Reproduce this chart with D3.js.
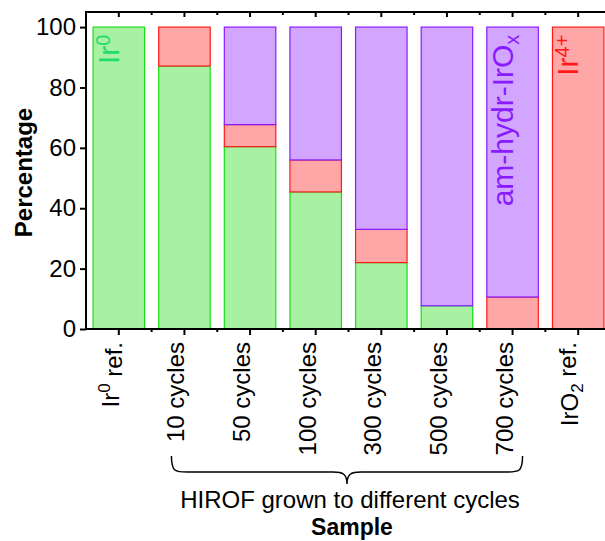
<!DOCTYPE html>
<html>
<head>
<meta charset="utf-8">
<script src="https://cdn.jsdelivr.net/npm/d3@7"></script>
<style>
  html, body { margin: 0; padding: 0; background: #fff; overflow: hidden; }
  svg { display: block; font-family: "Liberation Sans", Arial, sans-serif; }
</style>
</head>
<body>
<svg id="chart" width="605" height="541"></svg>
<script>
// Samples along the x axis
const samples = ["Ir0 ref.", "10 cycles", "50 cycles", "100 cycles", "300 cycles", "500 cycles", "700 cycles", "IrO2 ref."];
// Percentage of each iridium species per sample
const ir0Pct   = [100, 87.1, 60.4, 45.4, 22.0, 7.7, 0, 0];
const ir4Pct   = [0, 12.9, 7.3, 10.6, 11.0, 0, 10.6, 100];
const amorphPct = [0, 0, 32.3, 44.0, 67.0, 92.3, 89.4, 0];
const yTicks = [0, 20, 40, 60, 80, 100];

const species = [
  { key: "ir0", values: ir0Pct, fill: "#a8f0a2", stroke: "#19e019" },
  { key: "ir4", values: ir4Pct, fill: "#ffa6a6", stroke: "#ff1a1a" },
  { key: "amorph", values: amorphPct, fill: "#d2a6ff", stroke: "#8a1aff" }
];

const rows = samples.map((s, i) => {
  const r = { sample: s };
  species.forEach(sp => r[sp.key] = sp.values[i]);
  return r;
});

const svg = d3.select("#chart");
const plotL = 86, plotR = 611, plotT = 12, plotB = 329;

const x = d3.scaleBand().domain(samples).range([plotL, plotR])
  .paddingInner(0.2).paddingOuter(0.1);
const y = d3.scaleLinear().domain([0, 105]).range([plotB, plotT]);

// stacked bars
const stack = d3.stack().keys(species.map(s => s.key));
const series = stack(rows);
series.forEach((layer, li) => {
  const sp = species[li];
  svg.append("g").selectAll("rect")
    .data(layer.filter(d => d[1] - d[0] > 0))
    .join("rect")
    .attr("x", d => x(d.data.sample) + 0.5)
    .attr("width", x.bandwidth() - 1)
    .attr("y", d => y(d[1]))
    .attr("height", d => y(d[0]) - y(d[1]))
    .attr("fill", sp.fill)
    .attr("stroke", sp.stroke)
    .attr("stroke-width", 1.2);
});

const tickFont = "24px";
const step = x.step();
const centers = samples.map(s => x(s) + x.bandwidth() / 2);
const bounds = d3.range(samples.length + 1).map(i => plotL + i * step);

// frame lines
const axisG = svg.append("g").attr("stroke", "#000").attr("fill", "none");
axisG.append("line").attr("x1", plotL).attr("x2", plotR + 5).attr("y1", plotB).attr("y2", plotB).attr("stroke-width", 2);
axisG.append("line").attr("x1", plotL).attr("x2", plotR + 5).attr("y1", plotT).attr("y2", plotT).attr("stroke-width", 2);
axisG.append("line").attr("x1", plotL).attr("x2", plotL).attr("y1", plotT - 1).attr("y2", plotB + 1).attr("stroke-width", 2);

// bottom ticks (outward) and top ticks (inward)
centers.forEach(c => {
  axisG.append("line").attr("x1", c).attr("x2", c).attr("y1", plotB).attr("y2", plotB + 6).attr("stroke-width", 2);
  axisG.append("line").attr("x1", c).attr("x2", c).attr("y1", plotT).attr("y2", plotT + 5).attr("stroke-width", 2);
});
bounds.slice(1).forEach(b => {
  axisG.append("line").attr("x1", b).attr("x2", b).attr("y1", plotB).attr("y2", plotB + 3).attr("stroke-width", 2);
  axisG.append("line").attr("x1", b).attr("x2", b).attr("y1", plotT).attr("y2", plotT + 3).attr("stroke-width", 2);
});

// left axis
const yAxis = d3.axisLeft(y).tickValues(yTicks).tickSize(6).tickPadding(4);
const yG = svg.append("g").attr("transform", `translate(${plotL},0)`).call(yAxis);
yG.select(".domain").remove();
yG.selectAll(".tick line").attr("stroke-width", 2);
yG.selectAll(".tick text").attr("font-size", tickFont).attr("font-family", "Liberation Sans, Arial, sans-serif").attr("fill", "#000");

// x tick labels (rotated, with super/subscripts)
const labelParts = {
  "Ir0 ref.": [["Ir", 0], ["0", -1], [" ref.", 0]],
  "IrO2 ref.": [["IrO", 0], ["2", 1], [" ref.", 0]]
};
samples.forEach((s, i) => {
  const t = svg.append("text")
    .attr("transform", `translate(${centers[i]},${plotB + 13}) rotate(-90)`)
    .attr("text-anchor", "end")
    .attr("dy", "0.36em")
    .attr("font-size", tickFont)
    .attr("fill", "#000");
  const parts = labelParts[s] || [[s, 0]];
  let prev = 0;
  parts.forEach(([txt, lvl]) => {
    const shift = lvl === -1 ? -0.5 : lvl === 1 ? 0.3 : 0;
    const ts = t.append("tspan").text(txt)
      .attr("dy", `${(shift - prev)}em`);
    if (lvl !== 0) ts.attr("font-size", "17px");
    prev = shift;
  });
});

// brace grouping the HIROF samples
const bL = centers[1] - 13, bR = centers[6] + 10, bMid = (bL + bR) / 2;
const bTop = 456, bBar = 472, bTip = 484;
const brace = d3.path();
brace.moveTo(bL, bTop);
brace.bezierCurveTo(bL, bBar, bL + 4, bBar, bL + 16, bBar);
brace.lineTo(bMid - 14, bBar);
brace.bezierCurveTo(bMid - 4, bBar, bMid, bBar + 2, bMid, bTip);
brace.bezierCurveTo(bMid, bBar + 2, bMid + 4, bBar, bMid + 14, bBar);
brace.lineTo(bR - 16, bBar);
brace.bezierCurveTo(bR - 4, bBar, bR, bBar, bR, bTop);
svg.append("path").attr("d", brace.toString()).attr("fill", "none").attr("stroke", "#000").attr("stroke-width", 1.5);

svg.append("text").attr("x", bMid + 3).attr("y", 508).attr("text-anchor", "middle")
  .attr("font-size", "24px").attr("fill", "#000").text("HIROF grown to different cycles");
svg.append("text").attr("x", bMid + 5).attr("y", 535).attr("text-anchor", "middle")
  .attr("font-size", "23px").attr("font-weight", "bold").attr("fill", "#000").text("Sample");

// y axis title
svg.append("text").attr("transform", `translate(32,${(plotT + plotB) / 2 + 2}) rotate(-90)`)
  .attr("text-anchor", "middle").attr("font-size", "24px").attr("font-weight", "bold")
  .attr("fill", "#000").text("Percentage");

// species labels inside bars
function barLabel(sampleIdx, parts, color, size) {
  const t = svg.append("text")
    .attr("transform", `translate(${centers[sampleIdx]},${y(97.5)}) rotate(-90)`)
    .attr("text-anchor", "end").attr("dy", "0.36em")
    .attr("font-size", size).attr("fill", color);
  let prev = 0;
  parts.forEach(([txt, lvl]) => {
    const shift = lvl === -1 ? -0.45 : lvl === 1 ? 0.3 : 0;
    const ts = t.append("tspan").text(txt).attr("dy", `${(shift - prev)}em`);
    if (lvl !== 0) ts.attr("font-size", "20px");
    prev = shift;
  });
}
barLabel(0, [["Ir", 0], ["0", -1]], "#1edc6e", "30px");
barLabel(6, [["am-hydr-IrO", 0], ["x", 1]], "#8a1aff", "30px");
barLabel(7, [["Ir", 0], ["4+", -1]], "#ff1a1a", "30px");
</script>
</body>
</html>
